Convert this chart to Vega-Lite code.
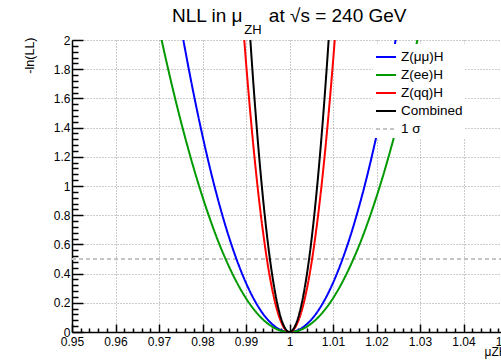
{
  "$schema": "https://vega.github.io/schema/vega-lite/v6.json",
  "width": 435,
  "height": 292,
  "autosize": {"type": "none"},
  "padding": {"left": 72, "top": 40, "right": 0, "bottom": 29},
  "background": "white",
  "config": {"view": {"stroke": null}, "font": "Liberation Sans"},
  "title": {
    "text": "NLL in μ\u00a0\u00a0\u00a0\u00a0\u00a0at √s = 240 GeV",
    "subtitle": "\u200b\u00a0\u00a0\u00a0\u00a0\u00a0\u00a0\u00a0\u00a0\u00a0\u00a0\u00a0\u00a0\u00a0\u00a0\u00a0\u00a0\u00a0\u00a0\u00a0\u00a0ZH",
    "font": "Liberation Sans",
    "fontSize": 19,
    "fontWeight": "normal",
    "color": "black",
    "subtitleFont": "Liberation Sans",
    "subtitleFontSize": 13,
    "subtitleColor": "black",
    "anchor": "start",
    "align": "left",
    "frame": "group",
    "dx": 100,
    "offset": -3,
    "subtitlePadding": -2
  },
  "data": {
    "values": [
      {"s": "1 σ", "x": 0.95, "y": 0.5},
      {"s": "1 σ", "x": 1.05, "y": 0.5},
      {"s": "Z(μμ)H", "x": 0.974, "y": 2.271},
      {"s": "Z(μμ)H", "x": 0.976, "y": 1.935},
      {"s": "Z(μμ)H", "x": 0.978, "y": 1.626},
      {"s": "Z(μμ)H", "x": 0.98, "y": 1.344},
      {"s": "Z(μμ)H", "x": 0.982, "y": 1.088},
      {"s": "Z(μμ)H", "x": 0.984, "y": 0.86},
      {"s": "Z(μμ)H", "x": 0.986, "y": 0.658},
      {"s": "Z(μμ)H", "x": 0.988, "y": 0.484},
      {"s": "Z(μμ)H", "x": 0.99, "y": 0.336},
      {"s": "Z(μμ)H", "x": 0.992, "y": 0.215},
      {"s": "Z(μμ)H", "x": 0.994, "y": 0.121},
      {"s": "Z(μμ)H", "x": 0.996, "y": 0.054},
      {"s": "Z(μμ)H", "x": 0.998, "y": 0.013},
      {"s": "Z(μμ)H", "x": 1.0, "y": 0.0},
      {"s": "Z(μμ)H", "x": 1.002, "y": 0.013},
      {"s": "Z(μμ)H", "x": 1.004, "y": 0.054},
      {"s": "Z(μμ)H", "x": 1.006, "y": 0.121},
      {"s": "Z(μμ)H", "x": 1.008, "y": 0.215},
      {"s": "Z(μμ)H", "x": 1.01, "y": 0.336},
      {"s": "Z(μμ)H", "x": 1.012, "y": 0.484},
      {"s": "Z(μμ)H", "x": 1.014, "y": 0.658},
      {"s": "Z(μμ)H", "x": 1.016, "y": 0.86},
      {"s": "Z(μμ)H", "x": 1.018, "y": 1.088},
      {"s": "Z(μμ)H", "x": 1.02, "y": 1.344},
      {"s": "Z(μμ)H", "x": 1.022, "y": 1.626},
      {"s": "Z(μμ)H", "x": 1.024, "y": 1.935},
      {"s": "Z(μμ)H", "x": 1.026, "y": 2.271},
      {"s": "Z(ee)H", "x": 0.968, "y": 2.369},
      {"s": "Z(ee)H", "x": 0.97, "y": 2.083},
      {"s": "Z(ee)H", "x": 0.972, "y": 1.814},
      {"s": "Z(ee)H", "x": 0.974, "y": 1.564},
      {"s": "Z(ee)H", "x": 0.976, "y": 1.333},
      {"s": "Z(ee)H", "x": 0.978, "y": 1.12},
      {"s": "Z(ee)H", "x": 0.98, "y": 0.926},
      {"s": "Z(ee)H", "x": 0.982, "y": 0.75},
      {"s": "Z(ee)H", "x": 0.984, "y": 0.592},
      {"s": "Z(ee)H", "x": 0.986, "y": 0.454},
      {"s": "Z(ee)H", "x": 0.988, "y": 0.333},
      {"s": "Z(ee)H", "x": 0.99, "y": 0.231},
      {"s": "Z(ee)H", "x": 0.992, "y": 0.148},
      {"s": "Z(ee)H", "x": 0.994, "y": 0.083},
      {"s": "Z(ee)H", "x": 0.996, "y": 0.037},
      {"s": "Z(ee)H", "x": 0.998, "y": 0.009},
      {"s": "Z(ee)H", "x": 1.0, "y": 0.0},
      {"s": "Z(ee)H", "x": 1.002, "y": 0.009},
      {"s": "Z(ee)H", "x": 1.004, "y": 0.037},
      {"s": "Z(ee)H", "x": 1.006, "y": 0.083},
      {"s": "Z(ee)H", "x": 1.008, "y": 0.148},
      {"s": "Z(ee)H", "x": 1.01, "y": 0.231},
      {"s": "Z(ee)H", "x": 1.012, "y": 0.333},
      {"s": "Z(ee)H", "x": 1.014, "y": 0.454},
      {"s": "Z(ee)H", "x": 1.016, "y": 0.592},
      {"s": "Z(ee)H", "x": 1.018, "y": 0.75},
      {"s": "Z(ee)H", "x": 1.02, "y": 0.926},
      {"s": "Z(ee)H", "x": 1.022, "y": 1.12},
      {"s": "Z(ee)H", "x": 1.024, "y": 1.333},
      {"s": "Z(ee)H", "x": 1.026, "y": 1.564},
      {"s": "Z(ee)H", "x": 1.028, "y": 1.814},
      {"s": "Z(ee)H", "x": 1.03, "y": 2.083},
      {"s": "Z(ee)H", "x": 1.032, "y": 2.369},
      {"s": "Z(qq)H", "x": 0.989, "y": 2.237},
      {"s": "Z(qq)H", "x": 0.99, "y": 1.849},
      {"s": "Z(qq)H", "x": 0.991, "y": 1.498},
      {"s": "Z(qq)H", "x": 0.992, "y": 1.183},
      {"s": "Z(qq)H", "x": 0.993, "y": 0.906},
      {"s": "Z(qq)H", "x": 0.994, "y": 0.666},
      {"s": "Z(qq)H", "x": 0.995, "y": 0.462},
      {"s": "Z(qq)H", "x": 0.996, "y": 0.296},
      {"s": "Z(qq)H", "x": 0.997, "y": 0.166},
      {"s": "Z(qq)H", "x": 0.998, "y": 0.074},
      {"s": "Z(qq)H", "x": 0.999, "y": 0.018},
      {"s": "Z(qq)H", "x": 1.0, "y": 0.0},
      {"s": "Z(qq)H", "x": 1.001, "y": 0.018},
      {"s": "Z(qq)H", "x": 1.002, "y": 0.074},
      {"s": "Z(qq)H", "x": 1.003, "y": 0.166},
      {"s": "Z(qq)H", "x": 1.004, "y": 0.296},
      {"s": "Z(qq)H", "x": 1.005, "y": 0.462},
      {"s": "Z(qq)H", "x": 1.006, "y": 0.666},
      {"s": "Z(qq)H", "x": 1.007, "y": 0.906},
      {"s": "Z(qq)H", "x": 1.008, "y": 1.183},
      {"s": "Z(qq)H", "x": 1.009, "y": 1.498},
      {"s": "Z(qq)H", "x": 1.01, "y": 1.849},
      {"s": "Z(qq)H", "x": 1.011, "y": 2.237},
      {"s": "Combined", "x": 0.99, "y": 2.469},
      {"s": "Combined", "x": 0.991, "y": 2.0},
      {"s": "Combined", "x": 0.992, "y": 1.58},
      {"s": "Combined", "x": 0.993, "y": 1.21},
      {"s": "Combined", "x": 0.994, "y": 0.889},
      {"s": "Combined", "x": 0.995, "y": 0.617},
      {"s": "Combined", "x": 0.996, "y": 0.395},
      {"s": "Combined", "x": 0.997, "y": 0.222},
      {"s": "Combined", "x": 0.998, "y": 0.099},
      {"s": "Combined", "x": 0.999, "y": 0.025},
      {"s": "Combined", "x": 1.0, "y": 0.0},
      {"s": "Combined", "x": 1.001, "y": 0.025},
      {"s": "Combined", "x": 1.002, "y": 0.099},
      {"s": "Combined", "x": 1.003, "y": 0.222},
      {"s": "Combined", "x": 1.004, "y": 0.395},
      {"s": "Combined", "x": 1.005, "y": 0.617},
      {"s": "Combined", "x": 1.006, "y": 0.889},
      {"s": "Combined", "x": 1.007, "y": 1.21},
      {"s": "Combined", "x": 1.008, "y": 1.58},
      {"s": "Combined", "x": 1.009, "y": 2.0},
      {"s": "Combined", "x": 1.01, "y": 2.469}
    ]
  },
  "mark": {"type": "line", "interpolate": "monotone", "clip": true, "strokeWidth": 2},
  "encoding": {
    "x": {
      "field": "x",
      "type": "quantitative",
      "scale": {"domain": [0.95, 1.05], "nice": false, "zero": false},
      "axis": {
        "values": [0.95,0.952,0.954,0.956,0.958,0.96,0.962,0.964,0.966,0.968,0.97,0.972,0.974,0.976,0.978,0.98,0.982,0.984,0.986,0.988,0.99,0.992,0.994,0.996,0.998,1,1.002,1.004,1.006,1.008,1.01,1.012,1.014,1.016,1.018,1.02,1.022,1.024,1.026,1.028,1.03,1.032,1.034,1.036,1.038,1.04,1.042,1.044,1.046,1.048,1.05],
        "title": "μZH",
        "titleFont": "Liberation Sans",
        "titleFontSize": 12,
        "titleFontWeight": "normal",
        "titleColor": "black",
        "titleAlign": "right",
        "titleAnchor": "end",
        "titleX": 435,
        "titleY": 23,
        "titleBaseline": "alphabetic",
        "labelExpr": "abs(datum.value*100 - round(datum.value*100)) < 0.000001 ? format(datum.value, '.2~f') : ''",
        "labelFont": "Liberation Sans",
        "labelFontSize": 12,
        "labelColor": "black",
        "labelPadding": 12,
        "labelFlush": false,
        "labelOverlap": false,
        "labelBaseline": "top",
        "domainColor": "black",
        "domainWidth": 1.5,
        "tickColor": "black",
        "tickWidth": 1.5,
        "tickSize": {"condition": {"test": "abs(datum.value*100 - round(datum.value*100)) < 0.000001", "value": -8}, "value": -4},
        "grid": true,
        "gridColor": "#999999",
        "gridDash": [1, 2],
        "gridWidth": 1,
        "gridOpacity": {"condition": {"test": "abs(datum.value*100 - round(datum.value*100)) < 0.000001", "value": 1}, "value": 0}
      }
    },
    "y": {
      "field": "y",
      "type": "quantitative",
      "scale": {"domain": [0, 2], "nice": false, "zero": false},
      "axis": {
        "values": [0,0.04,0.08,0.12,0.16,0.2,0.24,0.28,0.32,0.36,0.4,0.44,0.48,0.52,0.56,0.6,0.64,0.68,0.72,0.76,0.8,0.84,0.88,0.92,0.96,1,1.04,1.08,1.12,1.16,1.2,1.24,1.28,1.32,1.36,1.4,1.44,1.48,1.52,1.56,1.6,1.64,1.68,1.72,1.76,1.8,1.84,1.88,1.92,1.96,2],
        "title": "-ln(LL)",
        "titleFont": "Liberation Sans",
        "titleFontSize": 12.5,
        "titleFontWeight": "normal",
        "titleColor": "black",
        "titleAngle": -90,
        "titleAlign": "right",
        "titleBaseline": "middle",
        "titleX": -43,
        "titleY": -3,
        "labelExpr": "abs(datum.value*5 - round(datum.value*5)) < 0.000001 ? format(datum.value, '.1~f') : ''",
        "labelFont": "Liberation Sans",
        "labelFontSize": 12,
        "labelColor": "black",
        "labelPadding": 13,
        "labelFlush": false,
        "labelOverlap": false,
        "domainColor": "black",
        "domainWidth": 1.5,
        "tickColor": "black",
        "tickWidth": 1.5,
        "tickSize": {"condition": {"test": "abs(datum.value*5 - round(datum.value*5)) < 0.000001", "value": -11}, "value": -6},
        "grid": true,
        "gridColor": "#999999",
        "gridDash": [1, 2],
        "gridWidth": 1,
        "gridOpacity": {"condition": {"test": "abs(datum.value*5 - round(datum.value*5)) < 0.000001", "value": 1}, "value": 0}
      }
    },
    "color": {
      "field": "s",
      "type": "nominal",
      "scale": {
        "domain": ["Z(μμ)H", "Z(ee)H", "Z(qq)H", "Combined", "1 σ"],
        "range": ["#0000ff", "#009a00", "#ff0000", "#000000", "#c4c4c4"]
      },
      "legend": {
        "title": null,
        "orient": "none",
        "legendX": 301,
        "legendY": 4,
        "padding": 2,
        "fillColor": "white",
        "strokeColor": null,
        "symbolType": "stroke",
        "symbolSize": 400,
        "symbolStrokeWidth": 2,
        "labelFont": "Liberation Sans",
        "labelFontSize": 13.5,
        "labelColor": "black",
        "labelOffset": 4,
        "rowPadding": 0
      }
    },
    "strokeDash": {
      "field": "s",
      "type": "nominal",
      "scale": {
        "domain": ["Z(μμ)H", "Z(ee)H", "Z(qq)H", "Combined", "1 σ"],
        "range": [[1, 0], [1, 0], [1, 0], [1, 0], [4, 3]]
      },
      "legend": {
        "title": null,
        "orient": "none",
        "legendX": 301,
        "legendY": 4,
        "padding": 2,
        "fillColor": "white",
        "strokeColor": null,
        "symbolType": "stroke",
        "symbolSize": 400,
        "symbolStrokeWidth": 2,
        "labelFont": "Liberation Sans",
        "labelFontSize": 13.5,
        "labelColor": "black",
        "labelOffset": 4,
        "rowPadding": 0
      }
    }
  }
}
